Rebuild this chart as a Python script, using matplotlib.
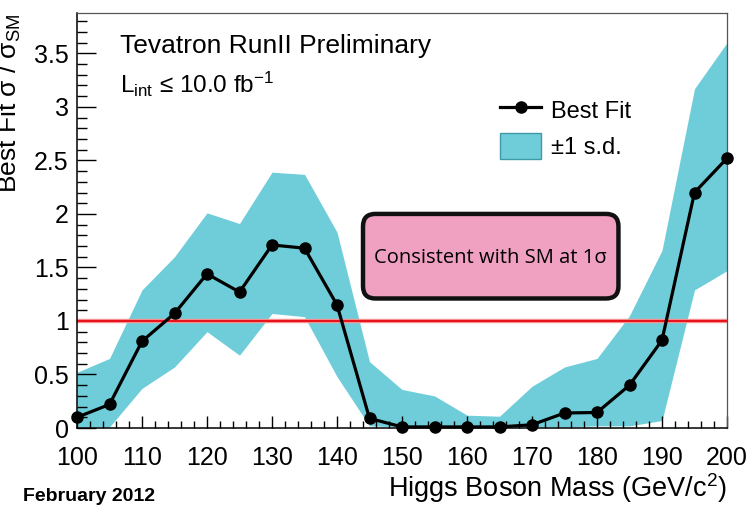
import matplotlib
matplotlib.use("Agg")
import matplotlib.pyplot as plt
from matplotlib.ticker import MultipleLocator
from matplotlib.patches import FancyBboxPatch, Patch
from matplotlib.lines import Line2D

plt.rcParams['font.family'] = ['Liberation Sans', 'DejaVu Sans']
plt.rcParams['mathtext.fontset'] = 'custom'
plt.rcParams['mathtext.rm'] = 'Liberation Sans'
plt.rcParams['mathtext.it'] = 'Liberation Sans:italic'
plt.rcParams['mathtext.bf'] = 'Liberation Sans:bold'

# ---- data ----
mass = [100, 105, 110, 115, 120, 125, 130, 135, 140, 145, 150,
        155, 160, 165, 170, 175, 180, 185, 190, 195, 200]
best_fit = [0.10, 0.22, 0.81, 1.07, 1.44, 1.27, 1.71, 1.68, 1.15, 0.09, 0.01,
            0.01, 0.01, 0.01, 0.03, 0.14, 0.145, 0.40, 0.82, 2.20, 2.52]
band_up = [0.52, 0.65, 1.29, 1.60, 2.01, 1.91, 2.39, 2.37, 1.83, 0.62, 0.36,
           0.30, 0.12, 0.11, 0.39, 0.57, 0.65, 1.05, 1.66, 3.17, 3.60]
band_lo = [0.01, 0.01, 0.37, 0.57, 0.90, 0.68, 1.07, 1.04, 0.48, 0.02, 0.01,
           0.01, 0.01, 0.01, 0.01, 0.01, 0.02, 0.02, 0.07, 1.29, 1.47]
sm_ref = 1.0
x_ticks = [100, 110, 120, 130, 140, 150, 160, 170, 180, 190, 200]
y_ticks = [0, 0.5, 1, 1.5, 2, 2.5, 3, 3.5]
y_ticklabels = ['0', '0.5', '1', '1.5', '2', '2.5', '3', '3.5']

band_color = '#6ecdd9'

fig = plt.figure(figsize=(7.5, 5.05), dpi=100)
ax = fig.add_axes([77/750, 1-428/505, 650/750, (428-12.7)/505])

ax.fill_between(mass, band_lo, band_up, color=band_color, lw=0, zorder=1)
ax.axhline(sm_ref, color='#f7a0a0', lw=3.2, zorder=2)
ax.axhline(sm_ref, color='#e8141c', lw=1.6, zorder=2)
ax.plot(mass, best_fit, color='black', lw=2.3, marker='o', ms=8, zorder=4,
        clip_on=False)

ax.set_xlim(100, 200)
ax.set_ylim(0, 3.88)
ax.set_xticks(x_ticks)
ax.set_xticklabels([str(t) for t in x_ticks])
ax.set_yticks(y_ticks)
ax.set_yticklabels(y_ticklabels)
ax.xaxis.set_minor_locator(MultipleLocator(2))
ax.yaxis.set_minor_locator(MultipleLocator(0.1))
ax.tick_params(axis='both', which='both', direction='in', top=False, right=False,
               labelsize=18, color='black', width=1.0)
ax.tick_params(axis='y', which='major', length=13.7, pad=6)
ax.tick_params(axis='y', which='minor', length=7)
ax.tick_params(axis='x', which='major', length=8.6, pad=13)
ax.tick_params(axis='x', which='minor', length=5)
for s in ['left', 'bottom']:
    ax.spines[s].set_color('black')
    ax.spines[s].set_linewidth(1.1)
for s in ['top', 'right']:
    ax.spines[s].set_color('#555555')
    ax.spines[s].set_linewidth(0.9)

ax.set_xlabel('Higgs Boson Mass (GeV/c$^{2}$)', fontsize=19.5, ha='right', x=1.0,
              labelpad=0.5)
fig.text(23/750, 1-103/505, 'Best Fit σ / σ$_{\\rm SM}$', rotation=90,
         fontsize=19, ha='right', va='center')

fig.text(120/750, 1-53/505, 'Tevatron RunII Preliminary',
         fontsize=19, ha='left', va='baseline')
fig.text(120/750, 1-93/505, 'L$_{\\rm int}$ ≤ 10.0 fb$^{-1}$',
         fontsize=17.5, ha='left', va='baseline')
fig.text(23/750, 1-501/505, 'February 2012', fontsize=14, fontweight='bold',
         ha='left', va='baseline')

# pink annotation box
bx0, bx1, by0, by1 = 144.0, 183.3, 1.21, 2.0
aspect = 6.5/107
box = FancyBboxPatch((bx0, by0), bx1-bx0, by1-by0,
                     boxstyle='round,pad=0,rounding_size=1.9',
                     mutation_aspect=aspect,
                     facecolor='#f0a0c0', edgecolor='#111111', lw=3.2, zorder=5)
ax.add_patch(box)
ax.text((bx0+bx1)/2, 1.585, 'Consistent with SM at 1σ', ha='center', va='center',
        fontsize=14.5, fontweight='medium', family=['Open Sans', 'DejaVu Sans'],
        color='#000000', zorder=6)

handles = [Line2D([], [], color='black', lw=2.3, marker='o', ms=8),
           Patch(facecolor=band_color, edgecolor='#3f9aa6', lw=1.0)]
leg = ax.legend(handles, ['Best Fit', '±1 s.d.'], loc='upper left',
                bbox_to_anchor=((500-77)/650, (428-97)/(428-12.7)),
                frameon=False, fontsize=17, handlelength=1.75, handleheight=1.3,
                handletextpad=0.4, labelspacing=0.45, borderpad=0, borderaxespad=0)

fig.savefig('out.png', dpi=100)
